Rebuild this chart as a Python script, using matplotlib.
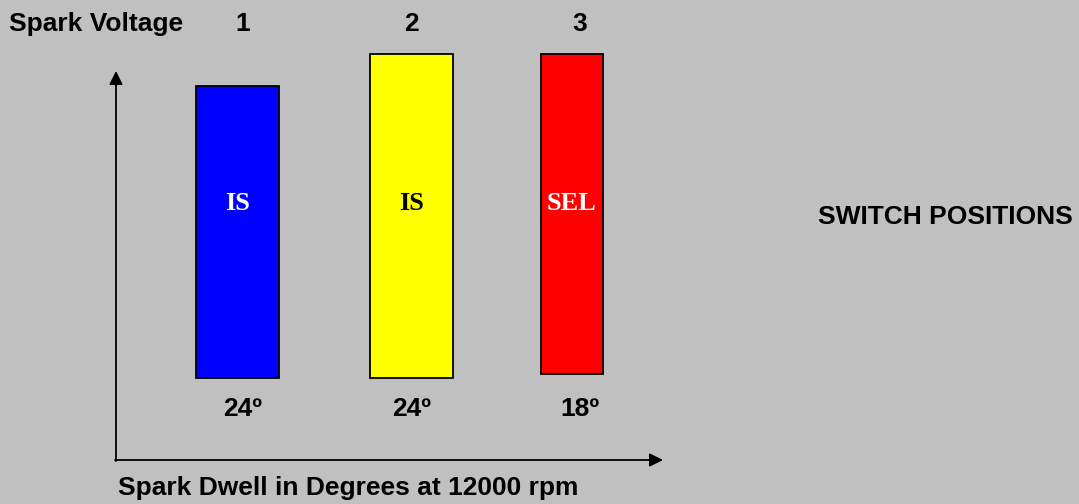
import matplotlib
matplotlib.use("Agg")
import matplotlib.pyplot as plt

# ---- data ----
positions = [1, 2, 3]
position_labels = ["1", "2", "3"]
bar_labels = ["IS", "IS", "SEL"]
dwell_deg = [24, 24, 18]
spark_voltage = [9.0, 10.0, 10.0]
voltage_base = [0.0, 0.0, 0.12]
bar_colors = ["#0000FF", "#FFFF00", "#FF0000"]
label_colors = ["white", "black", "white"]

W, H = 1079, 504
BG = "#C0C0C0"
fig = plt.figure(figsize=(W / 100, H / 100), dpi=100, facecolor=BG)
ax = fig.add_axes([0, 0, 1, 1])
ax.set_facecolor(BG)
ax.axis("off")

# mapping: category 1 -> 243px, scale 168.5 px/unit; voltage 0 -> 378px from top, 32.4 px/unit
xs = 168.5
ax.set_xlim(1 - 243 / xs, 1 - 243 / xs + W / xs)
ys = 32.4
ax.set_ylim(-(H - 378) / ys, -(H - 378) / ys + H / ys)

FS = 19
shift = [-0.033, 0.0, -0.05]
width_per_deg = 3.45 / xs
for i, p in enumerate(positions):
    cx = p + shift[i]
    ax.bar(cx, spark_voltage[i] - voltage_base[i], width=dwell_deg[i] * width_per_deg,
           bottom=voltage_base[i], color=bar_colors[i], edgecolor="black", linewidth=1.3, zorder=2)
    ax.text(cx, (H - 204 - (H - 378)) / ys, bar_labels[i], color=label_colors[i],
            fontsize=19, fontweight="bold", family="Liberation Serif",
            ha="center", va="center", zorder=3)
    ax.text(p, (H - 409 - (H - 378)) / ys, f"{dwell_deg[i]}º", fontsize=FS,
            fontweight="bold", family="Liberation Sans", ha="center", va="center")
    ax.text(p, (H - 24 - (H - 378)) / ys, position_labels[i], fontsize=FS,
            fontweight="bold", family="Liberation Sans", ha="center", va="center")

def fx(px):
    return px / W

def fy(py):
    return 1 - py / H

# axes arrows
arrow = dict(arrowstyle="-|>", mutation_scale=20, lw=1.3, color="black", shrinkA=0, shrinkB=0)
fig.add_artist(matplotlib.patches.FancyArrowPatch((fx(116), fy(461)), (fx(116), fy(71)),
               transform=fig.transFigure, **arrow))
fig.add_artist(matplotlib.patches.FancyArrowPatch((fx(115), fy(460)), (fx(663), fy(460)),
               transform=fig.transFigure, **arrow))

fig.text(fx(9), fy(24), "Spark Voltage", fontsize=FS, fontweight="bold",
         family="Liberation Sans", ha="left", va="center")
fig.text(fx(118), fy(488), "Spark Dwell in Degrees at 12000 rpm", fontsize=FS,
         fontweight="bold", family="Liberation Sans", ha="left", va="center")
fig.text(fx(818), fy(217), "SWITCH POSITIONS", fontsize=FS, fontweight="bold",
         family="Liberation Sans", ha="left", va="center")

fig.savefig("out.png", dpi=100, facecolor=BG)
